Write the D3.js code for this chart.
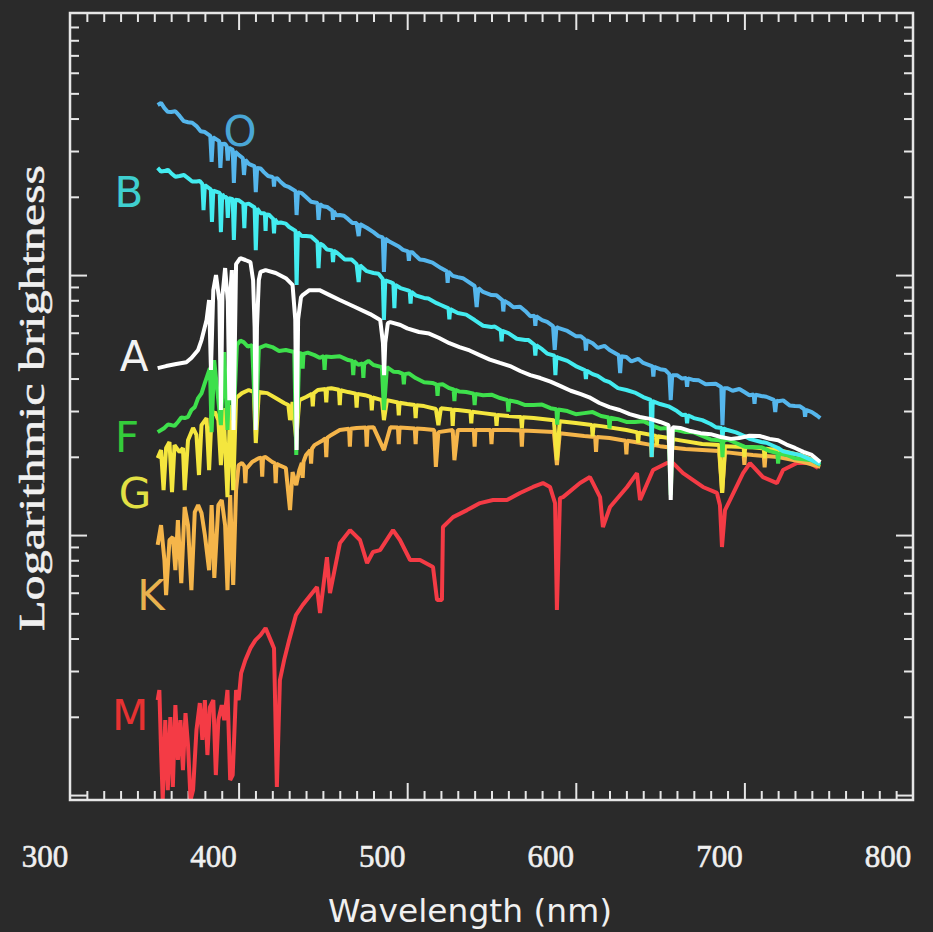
<!DOCTYPE html>
<html><head><meta charset="utf-8">
<script src="https://cdn.jsdelivr.net/npm/d3@7"></script>
<style>html,body{margin:0;padding:0;background:#2a2a2a;} svg{display:block}</style>
</head><body><svg id="chart" width="933" height="932"></svg>
<script>
// ---------- DATA ----------
const xTickLabels = [300, 400, 500, 600, 700, 800];
const spectralClasses = ["O", "B", "A", "F", "G", "K", "M"];
// [wavelength nm, log10 brightness]
const spectrumO = [[352,0.654],[356,0.642],[360,0.627],[365,0.612],[370,0.588],[375,0.573],[380,0.550],[383.2,0.535],[384,0.435],[384.8,0.530],[388.5,0.515],[389.2,0.412],[390,0.504],[393,0.495],[393.6,0.440],[394.3,0.490],[396.5,0.482],[397.2,0.354],[398,0.475],[400,0.462],[402.5,0.450],[403.2,0.385],[404,0.444],[409.5,0.418],[410.2,0.319],[411,0.412],[415,0.396],[420,0.377],[425,0.358],[430,0.338],[433.8,0.323],[434.4,0.231],[435.2,0.319],[440,0.300],[446.8,0.277],[447.4,0.212],[448.2,0.273],[450,0.265],[455,0.250],[460,0.231],[465,0.215],[470,0.200],[471.2,0.150],[472,0.196],[480,0.165],[485.5,0.145],[486.2,0.012],[487,0.140],[490,0.127],[495,0.110],[500,0.092],[505,0.075],[510,0.058],[520,0.027],[530,-0.008],[540,-0.042],[541.2,-0.123],[542.2,-0.050],[550,-0.077],[560,-0.108],[570,-0.138],[580,-0.173],[586.5,-0.196],[587.5,-0.288],[588.5,-0.200],[590,-0.204],[600,-0.235],[610,-0.262],[620,-0.288],[625.5,-0.308],[626.3,-0.377],[627,-0.312],[630,-0.315],[640,-0.338],[650,-0.362],[655.5,-0.381],[656.3,-0.481],[657.2,-0.385],[660,-0.385],[670,-0.404],[680,-0.419],[686.3,-0.431],[687,-0.577],[687.8,-0.435],[690,-0.435],[700,-0.450],[710,-0.465],[717.5,-0.480],[718.3,-0.527],[719,-0.483],[720,-0.485],[730,-0.504],[740,-0.527],[745,-0.550]];
const linesO = [[420.6,0.373],[421,0.340],[421.4,0.371],[455.6,0.248],[456,0.212],[456.4,0.246],[500.5,0.090],[501,0.055],[501.5,0.088],[523.5,0.015],[524,-0.030],[524.5,0.013],[556.5,-0.097],[557,-0.140],[557.5,-0.099],[575.5,-0.156],[576,-0.195],[576.5,-0.158],[605.5,-0.249],[606,-0.290],[606.5,-0.251],[645.5,-0.351],[646,-0.390],[646.5,-0.353],[665.5,-0.396],[666,-0.430],[666.5,-0.397],[705.5,-0.459],[706,-0.495],[706.5,-0.460],[735.5,-0.516],[736,-0.545],[736.5,-0.518]];
const wigglesO = [[354,0.662],[358,0.628],[362.5,0.630],[367.5,0.592],[372.5,0.586],[377.5,0.553],[392,0.505],[406,0.428],[413,0.410],[417.5,0.381],[423,0.372],[427.5,0.344],[437.5,0.315],[443,0.282],[452.5,0.262],[458,0.230],[462.5,0.228],[467.5,0.200],[476,0.182],[483,0.150],[497.5,0.097],[503,0.088],[507.5,0.060],[515,0.048],[527,-0.003],[533,-0.012],[545,-0.065],[553,-0.078],[563,-0.124],[567,-0.122],[573,-0.158],[583,-0.180],[595,-0.215],[603,-0.235],[613,-0.280],[617,-0.272],[633,-0.332],[637,-0.322],[653,-0.365],[663,-0.398],[673,-0.405],[677,-0.420],[683,-0.418],[693,-0.445],[697,-0.438],[703,-0.462],[713,-0.468],[723,-0.482],[727,-0.502],[733,-0.505],[743,-0.540]];
const spectrumB = [[352,0.412],[356,0.400],[360,0.392],[365,0.381],[370,0.373],[375,0.360],[378.5,0.350],[379.2,0.250],[380,0.346],[383.5,0.330],[384.2,0.204],[385,0.325],[388.8,0.316],[389.5,0.165],[390.3,0.312],[393,0.300],[393.6,0.220],[394.3,0.296],[396.5,0.292],[397.2,0.135],[398,0.290],[400,0.288],[402.8,0.275],[403.4,0.180],[404,0.272],[409.5,0.260],[410.2,0.096],[411,0.256],[415,0.238],[420,0.219],[425,0.202],[430,0.185],[433.8,0.170],[434.4,-0.038],[435.2,0.165],[440,0.150],[446.8,0.126],[447.4,0.027],[448.2,0.122],[450,0.115],[460,0.077],[470,0.042],[471.2,-0.027],[472,0.038],[480,0.008],[485.5,-0.015],[486.2,-0.173],[487,-0.020],[490,-0.027],[491.8,-0.033],[492.4,-0.127],[493,-0.038],[500,-0.058],[510,-0.088],[520,-0.115],[530,-0.146],[540,-0.173],[550,-0.200],[560,-0.223],[570,-0.250],[580,-0.285],[587.3,-0.310],[587.9,-0.385],[588.5,-0.315],[590,-0.319],[600,-0.350],[610,-0.381],[620,-0.412],[630,-0.442],[640,-0.469],[644.4,-0.480],[645,-0.700],[645.6,-0.485],[650,-0.496],[660,-0.523],[670,-0.550],[680,-0.573],[690,-0.596],[700,-0.619],[710,-0.642],[720,-0.665],[730,-0.688],[740,-0.712],[745,-0.727]];
const linesB = [[415.6,0.235],[416,0.170],[416.4,0.233],[420.5,0.217],[421,0.160],[421.5,0.215],[455.5,0.095],[456,0.050],[456.5,0.093],[501.5,-0.062],[502,-0.110],[502.5,-0.064],[524.5,-0.128],[525,-0.170],[525.5,-0.131],[555.5,-0.213],[556,-0.255],[556.5,-0.215],[575.5,-0.268],[576,-0.310],[576.5,-0.270],[605.5,-0.366],[606,-0.400],[606.5,-0.368],[665.5,-0.537],[666,-0.570],[666.5,-0.539],[686.5,-0.588],[687,-0.630],[687.5,-0.590]];
const wigglesB = [[354,0.398],[358,0.405],[362.5,0.378],[367.5,0.385],[372.5,0.360],[377,0.362],[391.5,0.298],[406,0.275],[413,0.238],[418,0.232],[423,0.200],[428,0.198],[437.5,0.150],[443,0.148],[452.5,0.098],[458,0.088],[463,0.060],[467,0.060],[476,0.015],[483,0.005],[496,-0.050],[505,-0.078],[512.5,-0.090],[517.5,-0.108],[535,-0.152],[545,-0.195],[552,-0.198],[565,-0.245],[572,-0.250],[583,-0.302],[595,-0.330],[613,-0.388],[617,-0.405],[625,-0.435],[635,-0.452],[655,-0.505],[663,-0.538],[675,-0.558],[683,-0.585],[695,-0.605],[703,-0.630],[713,-0.645],[723,-0.678],[733,-0.692],[743,-0.722]];
const spectrumA = [[352,-0.358],[357,-0.350],[363,-0.342],[369,-0.335],[372,-0.319],[376,-0.288],[378,-0.250],[381,-0.173],[382.5,-0.096],[383.6,-0.365],[385,-0.058],[386.6,0.000],[388.6,-0.100],[389.5,-0.519],[390.4,-0.080],[392,0.027],[393.6,-0.100],[394.5,-0.481],[395.3,-0.050],[396,0.019],[397,-0.596],[398.5,0.042],[401,0.065],[404,0.058],[407,0.050],[408.6,-0.020],[409.5,-0.200],[410.2,-0.596],[410.9,-0.200],[412,-0.019],[413,0.012],[416,0.019],[422,0.008],[428,-0.012],[432,-0.038],[433.6,-0.170],[434.4,-0.673],[435.3,-0.170],[437,-0.085],[438,-0.077],[442,-0.058],[448,-0.058],[454,-0.077],[460,-0.096],[469,-0.123],[478,-0.150],[484,-0.173],[485.6,-0.260],[486.3,-0.385],[487.0,-0.260],[488.5,-0.185],[490,-0.181],[496,-0.192],[507,-0.219],[519,-0.242],[531,-0.277],[543,-0.308],[555,-0.338],[567,-0.369],[579,-0.396],[591,-0.427],[603,-0.458],[614,-0.492],[626,-0.519],[638,-0.546],[650,-0.565],[655,-0.577],[656.3,-0.865],[657.5,-0.585],[662,-0.588],[674,-0.608],[686,-0.623],[697,-0.627],[709,-0.619],[720,-0.635],[730,-0.665],[740,-0.692],[745,-0.719]];
const wigglesA = [[500,-0.205],[513,-0.225],[525,-0.262],[537,-0.290],[549,-0.325],[561,-0.350],[573,-0.385],[585,-0.410],[597,-0.445],[608,-0.470],[620,-0.508],[632,-0.535],[644,-0.553],[668,-0.600],[680,-0.612],[692,-0.630],[703,-0.618],[715,-0.630],[725,-0.652],[735,-0.680]];
const spectrumF = [[352,-0.604],[356,-0.588],[360,-0.577],[364,-0.565],[368,-0.550],[372,-0.519],[376,-0.473],[380,-0.415],[383,-0.358],[384,-0.604],[385.5,-0.327],[389.5,-0.577],[391.5,-0.296],[393.4,-0.596],[395,-0.288],[397,-0.558],[399,-0.269],[403,-0.258],[408,-0.269],[410.2,-0.596],[412,-0.281],[420,-0.277],[428,-0.288],[433,-0.296],[434.2,-0.692],[436,-0.300],[445,-0.308],[455,-0.315],[465,-0.327],[480,-0.346],[485,-0.354],[486.2,-0.519],[488,-0.354],[495,-0.373],[505,-0.396],[515,-0.415],[525,-0.435],[535,-0.450],[545,-0.462],[555,-0.473],[565,-0.488],[575,-0.500],[585,-0.512],[595,-0.523],[605,-0.531],[615,-0.542],[625,-0.554],[635,-0.565],[645,-0.577],[655,-0.588],[656.3,-0.846],[657.5,-0.592],[665,-0.604],[675,-0.619],[685,-0.635],[695,-0.646],[705,-0.662],[715,-0.677],[725,-0.692],[735,-0.708],[745,-0.731]];
const linesF = [[437.5,-0.302],[438,-0.360],[438.5,-0.303],[450.5,-0.312],[451,-0.365],[451.5,-0.313],[467.5,-0.330],[468,-0.385],[468.5,-0.331],[473.5,-0.340],[474,-0.395],[474.5,-0.341],[497.5,-0.380],[498,-0.420],[498.5,-0.381],[517.5,-0.421],[518,-0.465],[518.5,-0.422],[527.5,-0.440],[528,-0.485],[528.5,-0.441],[539.5,-0.456],[540,-0.500],[540.5,-0.457],[559.5,-0.481],[560,-0.525],[560.5,-0.482],[588.5,-0.516],[589,-0.575],[589.5,-0.517],[619.5,-0.548],[620,-0.590],[620.5,-0.549],[686.5,-0.637],[687,-0.700],[687.5,-0.638],[719.5,-0.685],[720,-0.725],[720.5,-0.686]];
const wigglesF = [[358,-0.575],[362,-0.580],[366,-0.548],[370,-0.545],[374,-0.508],[378,-0.455],[401,-0.252],[405.5,-0.275],[416,-0.270],[424,-0.292],[441,-0.298],[448,-0.318],[460,-0.312],[471,-0.345],[477,-0.330],[492,-0.372],[501,-0.378],[510,-0.412],[521,-0.420],[531,-0.448],[550,-0.460],[570,-0.500],[580,-0.498],[600,-0.535],[610,-0.527],[630,-0.565],[640,-0.562],[650,-0.590],[670,-0.605],[680,-0.632],[690,-0.632],[700,-0.660],[710,-0.662],[730,-0.705],[740,-0.712]];
const spectrumG = [[352,-0.704],[354,-0.673],[355.5,-0.827],[357,-0.665],[359,-0.642],[360.5,-0.835],[362,-0.654],[365,-0.681],[367,-0.665],[368,-0.827],[370,-0.635],[373,-0.588],[375,-0.615],[376.5,-0.769],[378,-0.577],[381,-0.550],[382.5,-0.750],[384,-0.538],[386,-0.527],[388,-0.558],[389.5,-0.731],[391,-0.512],[393.4,-0.854],[395,-0.500],[396.8,-0.827],[398.5,-0.473],[402,-0.454],[406,-0.442],[409,-0.450],[410.2,-0.646],[412,-0.450],[417,-0.454],[422,-0.473],[427,-0.492],[429.5,-0.500],[430.5,-0.558],[432,-0.488],[434.2,-0.635],[436,-0.481],[440,-0.469],[447,-0.442],[455,-0.435],[465,-0.450],[475,-0.462],[485,-0.481],[486.2,-0.558],[488,-0.481],[500,-0.496],[510,-0.504],[517,-0.515],[518.5,-0.577],[520,-0.512],[530,-0.519],[545,-0.531],[560,-0.542],[575,-0.550],[587,-0.558],[588.8,-0.712],[590.5,-0.562],[600,-0.569],[615,-0.581],[630,-0.596],[645,-0.615],[655,-0.627],[656.3,-0.731],[657.5,-0.631],[675,-0.650],[685,-0.654],[686.8,-0.838],[688.5,-0.658],[705,-0.662],[720,-0.673],[735,-0.696],[745,-0.723]];
const linesG = [[443.5,-0.457],[444,-0.505],[444.5,-0.455],[451.5,-0.438],[452,-0.490],[452.5,-0.437],[459.5,-0.441],[460,-0.500],[460.5,-0.443],[469.5,-0.456],[470,-0.510],[470.5,-0.457],[478.5,-0.469],[479,-0.520],[479.5,-0.471],[494.5,-0.490],[495,-0.540],[495.5,-0.491],[504.5,-0.500],[505,-0.550],[505.5,-0.501],[526.5,-0.517],[527,-0.580],[527.5,-0.518],[537.5,-0.525],[538,-0.570],[538.5,-0.526],[552.5,-0.537],[553,-0.580],[553.5,-0.538],[567.5,-0.546],[568,-0.590],[568.5,-0.547],[609.5,-0.577],[610,-0.620],[610.5,-0.578],[636.5,-0.605],[637,-0.645],[637.5,-0.606],[647.5,-0.619],[648,-0.655],[648.5,-0.620],[699.5,-0.661],[700,-0.700],[700.5,-0.661],[711.5,-0.667],[712,-0.705],[712.5,-0.668]];
const spectrumK = [[352,-1.038],[354,-0.962],[356,-1.096],[357,-1.231],[359,-1.019],[361,-1.008],[362.5,-1.135],[364,-0.942],[366,-1.185],[368,-0.892],[370,-0.962],[372,-1.212],[374,-0.912],[376,-0.885],[378,-0.915],[380,-1.000],[382.5,-1.135],[384,-0.885],[385.6,-1.165],[388,-0.885],[390,-0.865],[392,-0.962],[393.4,-1.212],[395,-0.846],[396.8,-1.192],[398.5,-0.827],[400,-0.731],[402,-0.723],[405,-0.742],[408,-0.719],[412,-0.704],[416,-0.700],[420,-0.719],[424,-0.731],[428,-0.742],[430.5,-0.904],[432,-0.758],[434.2,-0.808],[436,-0.750],[440,-0.692],[445,-0.654],[450,-0.635],[455,-0.615],[460,-0.596],[470,-0.588],[480,-0.585],[486.2,-0.673],[490,-0.585],[500,-0.588],[510,-0.592],[516,-0.596],[517,-0.738],[518.5,-0.604],[527,-0.596],[528,-0.712],[530,-0.596],[545,-0.596],[560,-0.596],[575,-0.600],[587,-0.604],[588.8,-0.731],[590.5,-0.608],[605,-0.619],[620,-0.627],[635,-0.642],[650,-0.658],[665,-0.669],[685,-0.677],[686.8,-0.838],[688.5,-0.681],[705,-0.692],[720,-0.700],[735,-0.719],[745,-0.738]];
const linesK = [[403.5,-0.735],[404,-0.800],[404.5,-0.737],[413.5,-0.702],[414,-0.775],[414.5,-0.702],[421.5,-0.724],[422,-0.800],[422.5,-0.726],[437.5,-0.722],[438,-0.780],[438.5,-0.718],[442.5,-0.673],[443,-0.725],[443.5,-0.668],[451.5,-0.628],[452,-0.700],[452.5,-0.626],[465.5,-0.591],[466,-0.660],[466.5,-0.591],[475.5,-0.586],[476,-0.660],[476.5,-0.586],[494.5,-0.586],[495,-0.650],[495.5,-0.586],[504.5,-0.590],[505,-0.650],[505.5,-0.590],[539.5,-0.596],[540,-0.660],[540.5,-0.596],[549.5,-0.596],[550,-0.650],[550.5,-0.596],[567.5,-0.598],[568,-0.660],[568.5,-0.598],[611.5,-0.623],[612,-0.680],[612.5,-0.623],[629.5,-0.637],[630,-0.690],[630.5,-0.637],[644.5,-0.653],[645,-0.700],[645.5,-0.653],[655.8,-0.663],[656.3,-0.720],[656.8,-0.663],[699.5,-0.689],[700,-0.730],[700.5,-0.689],[711.5,-0.696],[712,-0.740],[712.5,-0.696]];
const spectrumM = [[352,-1.635],[353,-1.596],[354,-1.827],[355,-2.019],[356.5,-1.712],[358,-1.981],[359.5,-1.700],[361,-1.969],[362.5,-1.654],[364,-1.865],[365.5,-1.712],[367,-1.904],[368.5,-1.685],[370,-1.808],[371.5,-2.019],[373,-1.981],[375,-1.750],[377,-1.646],[378.5,-1.788],[380,-1.635],[381.5,-1.846],[383,-1.662],[385,-1.635],[386.5,-1.923],[388,-1.712],[390,-1.654],[391.5,-1.712],[393.4,-1.596],[395,-1.942],[396.5,-1.923],[398.5,-1.596],[400,-1.635],[401.5,-1.531],[404,-1.481],[407,-1.435],[410,-1.404],[413,-1.385],[416,-1.358],[419,-1.404],[421,-1.435],[422.7,-1.969],[424.5,-1.558],[427,-1.481],[430,-1.404],[434,-1.308],[438,-1.269],[446.5,-1.200],[448.3,-1.300],[452.4,-1.085],[454.2,-1.223],[460.1,-1.031],[466.1,-0.981],[472,-1.019],[476.2,-1.108],[479.7,-1.065],[483.9,-1.058],[491.6,-0.981],[495.7,-1.019],[501.7,-1.096],[507.6,-1.096],[515.3,-1.123],[517.7,-1.250],[520.6,-1.250],[521.2,-0.969],[527.2,-0.931],[535.5,-0.904],[543.2,-0.877],[550.9,-0.865],[559.2,-0.865],[566.9,-0.838],[574.6,-0.815],[580.5,-0.800],[584.7,-0.815],[587.7,-0.877],[588.8,-1.288],[590.6,-0.858],[592.4,-0.854],[602.5,-0.800],[608.4,-0.777],[614.4,-0.854],[616.1,-0.969],[620.3,-0.892],[630.4,-0.815],[636.3,-0.762],[638.1,-0.865],[645.8,-0.750],[654.1,-0.723],[657.7,-0.723],[663.6,-0.762],[675.4,-0.815],[683.7,-0.838],[685.5,-0.885],[686.7,-1.046],[688.5,-0.904],[691.5,-0.865],[699.2,-0.762],[703.3,-0.723],[711,-0.777],[719.3,-0.800],[722.9,-0.750],[731.2,-0.723],[738.9,-0.723],[743.7,-0.742]];

// ---------- STYLE / LAYOUT ----------
const lineColors = {O:"#55b6ec", B:"#43ecf0", A:"#ffffff", F:"#3ee04c", G:"#f4e63e", K:"#f5b54a", M:"#f43b45"};
const labelColors = {O:"#4aa6d6", B:"#3fcfd0", A:"#f2f2f2", F:"#34cc3a", G:"#e2e044", K:"#e8b24e", M:"#e63232"};
const labelPos = {O:[240,131], B:[129,192], A:[134,356], F:[127,437], G:[135,493], K:[151,595], M:[130,715]};
const byWl = (a,b) => a[0]-b[0];
const spectra = {
  O: spectrumO.concat(linesO, wigglesO).sort(byWl),
  B: spectrumB.concat(linesB, wigglesB).sort(byWl),
  A: spectrumA.concat(wigglesA).sort(byWl),
  F: spectrumF.concat(linesF, wigglesF).sort(byWl),
  G: spectrumG.concat(linesG).sort(byWl),
  K: spectrumK.concat(linesK).sort(byWl),
  M: spectrumM
};
const drawOrder = ["M","K","G","F","B","A","O"];

const svg = d3.select("#chart");
svg.append("rect").attr("width",933).attr("height",932).attr("fill","#2a2a2a");

const pLeft=70, pRight=913, pTop=13, pBottom=800;
const x = d3.scaleLinear().domain([300,800]).range([pLeft,pRight]);
const y = d3.scaleLinear().domain([-2.019,1.008]).range([pBottom,pTop]);

const axisColor = "#e6e6e6";
const xMinor = d3.range(310, 800, 10).filter(v => v % 100 !== 0);
const xMajor = xTickLabels.filter(v => v > 300 && v < 800);
function styleAxis(g){ g.select(".domain").remove(); g.selectAll("line").attr("stroke",axisColor).attr("stroke-width",2); }
svg.append("g").attr("transform",`translate(0,${pBottom})`).call(d3.axisBottom(x).tickValues(xMinor).tickSize(-9).tickFormat("")).call(styleAxis);
svg.append("g").attr("transform",`translate(0,${pBottom})`).call(d3.axisBottom(x).tickValues(xMajor).tickSize(-17).tickFormat("")).call(styleAxis);
svg.append("g").attr("transform",`translate(0,${pTop})`).call(d3.axisTop(x).tickValues(xMinor).tickSize(-9).tickFormat("")).call(styleAxis);
svg.append("g").attr("transform",`translate(0,${pTop})`).call(d3.axisTop(x).tickValues(xMajor).tickSize(-17).tickFormat("")).call(styleAxis);
const yMinor = [], yMajor = [];
[-2,-1,0].forEach(n => { yMajor.push(n); for (let k=2;k<=9;k++) yMinor.push(n+Math.log10(k)); });
svg.append("g").attr("transform",`translate(${pLeft},0)`).call(d3.axisLeft(y).tickValues(yMinor).tickSize(-9).tickFormat("")).call(styleAxis);
svg.append("g").attr("transform",`translate(${pLeft},0)`).call(d3.axisLeft(y).tickValues(yMajor).tickSize(-17).tickFormat("")).call(styleAxis);
svg.append("g").attr("transform",`translate(${pRight},0)`).call(d3.axisRight(y).tickValues(yMinor).tickSize(-9).tickFormat("")).call(styleAxis);
svg.append("g").attr("transform",`translate(${pRight},0)`).call(d3.axisRight(y).tickValues(yMajor).tickSize(-17).tickFormat("")).call(styleAxis);

const line = d3.line().x(d => x(d[0])).y(d => y(d[1]));
const plot = svg.append("g");
drawOrder.forEach(k => {
  plot.append("path").datum(spectra[k]).attr("d", line)
    .attr("fill","none").attr("stroke", lineColors[k]).attr("stroke-width",4)
    .attr("stroke-linejoin","bevel");
});

svg.append("rect").attr("x",pLeft).attr("y",pTop).attr("width",pRight-pLeft).attr("height",pBottom-pTop)
  .attr("fill","none").attr("stroke",axisColor).attr("stroke-width",2.5);

svg.append("g").selectAll("text").data(xTickLabels).join("text")
  .attr("x", d => x(d) - 25).attr("y", 867).attr("text-anchor","middle")
  .attr("font-family","'Liberation Serif', 'DejaVu Serif', serif").attr("font-size",31)
  .attr("fill","#f0f0f0").attr("stroke","#f0f0f0").attr("stroke-width",0.6).text(d => d);

svg.append("text").attr("x",470).attr("y",922).attr("text-anchor","middle")
  .attr("font-family","'DejaVu Sans', sans-serif").attr("font-size",32).attr("fill","#f0f0f0")
  .attr("textLength",284).attr("lengthAdjust","spacingAndGlyphs").text("Wavelength (nm)");
svg.append("text").attr("transform","translate(44,398) rotate(-90)").attr("text-anchor","middle")
  .attr("font-family","'Liberation Serif', 'DejaVu Serif', serif").attr("font-size",36).attr("fill","#f0f0f0")
  .attr("stroke","#f0f0f0").attr("stroke-width",0.5)
  .attr("textLength",466).attr("lengthAdjust","spacingAndGlyphs").text("Logarithmic brightness");

svg.append("g").selectAll("text").data(spectralClasses).join("text")
  .attr("x", d => labelPos[d][0]).attr("y", d => labelPos[d][1] + 15)
  .attr("text-anchor","middle").attr("font-family","'DejaVu Sans', sans-serif")
  .attr("font-size",42).attr("fill", d => labelColors[d]).text(d => d);
</script></body></html>
